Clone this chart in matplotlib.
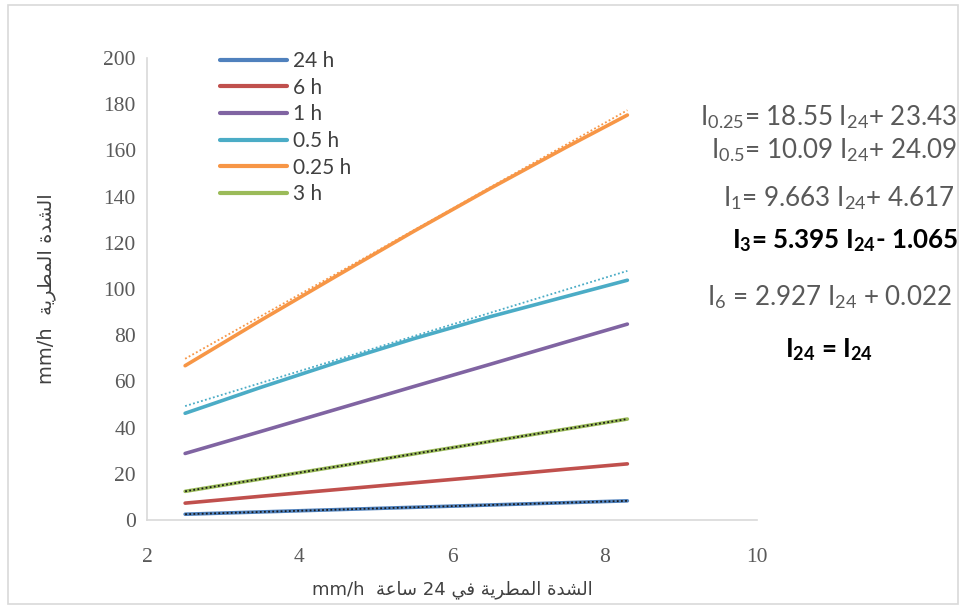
import numpy as np
import matplotlib.pyplot as plt
from matplotlib.patches import Rectangle

plt.rcParams['mathtext.fontset'] = 'custom'
plt.rcParams['mathtext.rm'] = 'Lato'
plt.rcParams['mathtext.bf'] = 'Lato:bold'
plt.rcParams['mathtext.it'] = 'Lato:italic'

# 24-hour rainfall intensity (mm/h) on the x axis
i24 = [2.5, 3.5, 4.5, 5.5, 6.5, 7.5, 8.3]

# derived intensities for shorter durations (mm/h)
series = {
    '24 h':   [2.5, 3.5, 4.5, 5.5, 6.5, 7.5, 8.3],
    '6 h':    [7.3, 10.3, 13.2, 16.1, 19.0, 22.0, 24.3],
    '1 h':    [28.8, 38.4, 48.1, 57.8, 67.4, 77.1, 84.8],
    '0.5 h':  [46.2, 57.5, 68.3, 78.5, 88.0, 96.8, 103.8],
    '0.25 h': [66.8, 86.6, 105.9, 125.0, 143.5, 161.4, 175.3],
    '3 h':    [12.4, 17.8, 23.2, 28.6, 34.0, 39.4, 43.7],
}
colors = {
    '24 h': '#4F81BD', '6 h': '#C0504D', '1 h': '#8064A2',
    '0.5 h': '#4BACC6', '0.25 h': '#F79646', '3 h': '#9BBB59',
}

# linear fits  I_d = a * I24 + b
fits = {
    '0.25 h': (18.55, 23.43),
    '0.5 h':  (10.09, 24.09),
    '1 h':    (9.663, 4.617),
    '3 h':    (5.395, -1.065),
    '6 h':    (2.927, 0.022),
    '24 h':   (1.0, 0.0),
}
fit_colors = {'0.25 h': '#F79646', '0.5 h': '#4BACC6', '3 h': '#1a1a1a', '24 h': '#1a1a1a'}

equations = [
    (r'I$_{0.25}$= 18.55 I$_{24}$+ 23.43', 957, 117, 'normal', '#595959'),
    (r'I$_{0.5}$= 10.09 I$_{24}$+ 24.09', 957, 150, 'normal', '#595959'),
    (r'I$_{1}$= 9.663 I$_{24}$+ 4.617', 955, 198, 'normal', '#595959'),
    (r'I$_{\mathbf{3}}$= 5.395 I$_{\mathbf{24}}$- 1.065', 958, 241, 'bold', '#000000'),
    (r'I$_{6}$ = 2.927 I$_{24}$ + 0.022', 952, 297, 'normal', '#595959'),
    (r'I$_{\mathbf{24}}$ = I$_{\mathbf{24}}$', 873, 350, 'bold', '#000000'),
]

# contextual forms (isolated, final, initial, medial) for the letters used
FORMS = {
    'ا': ('\uFE8D', '\uFE8E', None, None),
    'ل': ('\uFEDD', '\uFEDE', '\uFEDF', '\uFEE0'),
    'ش': ('\uFEB5', '\uFEB6', '\uFEB7', '\uFEB8'),
    'د': ('\uFEA9', '\uFEAA', None, None),
    'ة': ('\uFE93', '\uFE94', None, None),
    'م': ('\uFEE1', '\uFEE2', '\uFEE3', '\uFEE4'),
    'ط': ('\uFEC1', '\uFEC2', '\uFEC3', '\uFEC4'),
    'ر': ('\uFEAD', '\uFEAE', None, None),
    'ي': ('\uFEF1', '\uFEF2', '\uFEF3', '\uFEF4'),
    'ف': ('\uFED1', '\uFED2', '\uFED3', '\uFED4'),
    'س': ('\uFEB1', '\uFEB2', '\uFEB3', '\uFEB4'),
    'ع': ('\uFEC9', '\uFECA', '\uFECB', '\uFECC'),
}


def ar(text):
    """Shape Arabic letters and return them in visual (left-to-right) order."""
    out = []
    for i, ch in enumerate(text):
        if ch not in FORMS:
            out.append(ch)
            continue
        prev = text[i - 1] if i > 0 else ' '
        nxt = text[i + 1] if i + 1 < len(text) else ' '
        join_prev = prev in FORMS and FORMS[prev][2] is not None
        join_next = nxt in FORMS and FORMS[ch][2] is not None
        iso, fin, ini, med = FORMS[ch]
        if join_prev and join_next:
            out.append(med)
        elif join_prev:
            out.append(fin)
        elif join_next:
            out.append(ini)
        else:
            out.append(iso)
    return ''.join(out[::-1])


W, H = 961, 612
fig = plt.figure(figsize=(W / 100, H / 100), dpi=100)
fig.patches.append(Rectangle((8 / W, 1 - 604 / H), 950 / W, 599 / H,
                             transform=fig.transFigure, fill=False,
                             edgecolor='#D9D9D9', linewidth=1.2))

ax = fig.add_axes([147 / W, 1 - 520 / H, 610 / W, 462 / H])

for name in ['24 h', '6 h', '1 h', '0.5 h', '0.25 h', '3 h']:
    ax.plot(i24, series[name], color=colors[name], lw=2.6,
            solid_capstyle='round', label=name, zorder=2)

xs = np.array([i24[0], i24[-1]])
for name, c in fit_colors.items():
    a, b = fits[name]
    ax.plot(xs, a * xs + b, color=c, lw=1.3, ls=(0, (1, 1.3)), zorder=3)

ax.set_xlim(2, 10)
ax.set_ylim(0, 200)
ax.set_xticks(range(2, 11, 2))
ax.set_yticks(range(0, 201, 20))
for s in ['top', 'right']:
    ax.spines[s].set_visible(False)
for s in ['left', 'bottom']:
    ax.spines[s].set_color('#D9D9D9')
    ax.spines[s].set_linewidth(1.2)
ax.tick_params(length=0, colors='#595959', labelsize=15.5)
ax.tick_params(axis='x', pad=20)
ax.tick_params(axis='y', pad=8)
for lab in ax.get_xticklabels() + ax.get_yticklabels():
    lab.set_fontfamily('Liberation Serif')

ax.set_xlabel('mm/h  ' + ar('ساعة') + ' 24 ' + ar('الشدة المطرية في'),
              fontsize=13, color='#404040', family='DejaVu Sans', labelpad=10)
ax.set_ylabel('mm/h  ' + ar('الشدة المطرية'), fontsize=14, color='#404040',
              family='DejaVu Sans', labelpad=34)

leg = ax.legend(loc='upper left', bbox_to_anchor=(0.12, 1.015), frameon=False,
                borderaxespad=0, borderpad=0, handlelength=3.2,
                handletextpad=0.3, labelspacing=0.32,
                prop={'family': 'Lato', 'size': 15})
for t in leg.get_texts():
    t.set_color('#404040')
for h in leg.get_lines():
    h.set_linewidth(3)

for txt, x, y, weight, col in equations:
    fig.text(x / W, 1 - y / H, txt, ha='right', va='center', fontsize=18.7,
             family='Lato', weight=weight, color=col)

fig.savefig('out.png', dpi=100)
